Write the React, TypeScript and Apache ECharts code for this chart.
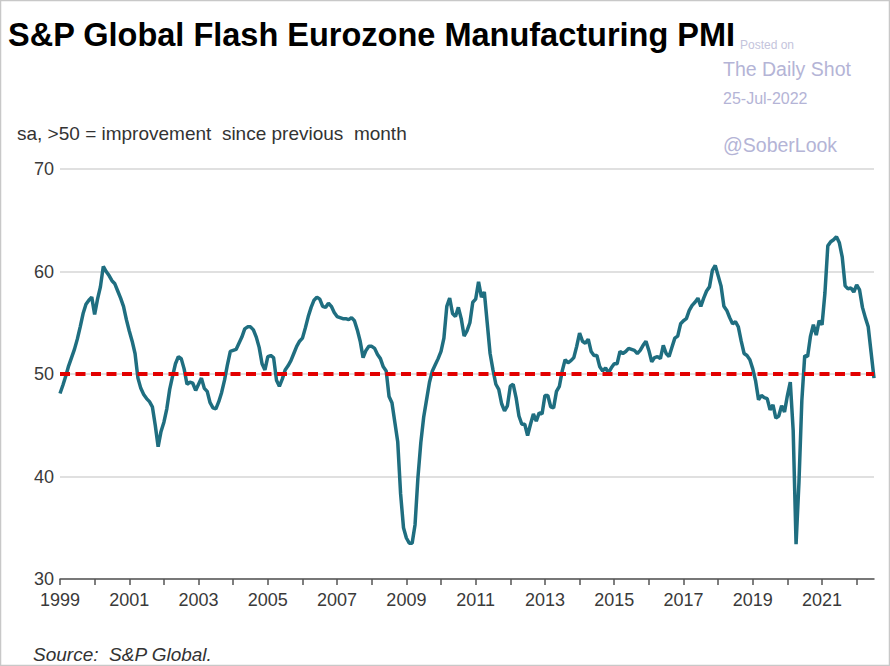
import React, { useEffect, useRef } from "react";
import * as echarts from "echarts";

const startYear = 1999;
const pmi1999to2004 = [
  48.1, 48.9, 49.8, 50.8, 51.6, 52.4, 53.4, 54.6, 55.9, 56.8, 57.2, 57.5,
  55.8, 57.3, 58.5, 60.5, 60.0, 59.6, 59.1, 58.8, 58.1, 57.4, 56.6, 55.3,
  54.2, 53.2, 52.0, 49.6, 48.6, 48.0, 47.6, 47.3, 46.8, 45.0, 42.9, 44.4,
  45.3, 46.6, 48.5, 49.8, 51.0, 51.7, 51.5, 50.5, 49.0, 49.2, 49.1, 48.4,
  49.0, 49.6, 48.6, 48.3, 47.2, 46.7, 46.6, 47.3, 48.2, 49.4, 50.9, 52.2,
  52.3, 52.4, 53.0, 53.6, 54.4, 54.6, 54.6, 54.3, 53.6, 52.6, 51.0, 50.4,
];
const pmi2005to2010 = [
  51.7, 51.8, 51.6, 49.4, 48.8, 49.5, 50.4, 50.8, 51.3, 52.0, 52.7, 53.2,
  53.5, 54.5, 55.6, 56.5, 57.2, 57.5, 57.3, 56.6, 56.5, 56.9, 56.6, 56.0,
  55.6, 55.5, 55.4, 55.4, 55.3, 55.5, 55.2, 54.3, 53.2, 51.6, 52.3, 52.7,
  52.7, 52.5, 51.9, 51.5, 50.7, 50.3, 47.8, 47.2, 45.3, 43.4, 38.3, 35.0,
  34.0, 33.5, 33.5, 35.3, 39.9, 43.3, 45.8, 47.5, 49.2, 50.3, 50.9, 51.5,
  52.2, 53.5, 56.6, 57.4, 55.9, 55.6, 56.5, 55.4, 53.7, 54.2, 55.0, 57.0,
];
const pmi2011to2016 = [
  57.3, 59.0, 57.5, 58.0, 55.0, 52.0, 50.4, 49.0, 48.5, 47.1, 46.4, 46.9,
  48.8, 49.0, 47.7, 45.9, 45.1, 45.1, 44.0, 45.1, 46.1, 45.4, 46.2, 46.1,
  47.9, 47.9, 46.8, 46.7, 48.3, 48.8, 50.3, 51.4, 51.1, 51.3, 51.6, 52.7,
  54.0, 53.2, 53.0, 53.4, 52.2, 51.8, 51.8, 50.7, 50.3, 50.6, 50.1, 50.6,
  51.0, 51.0, 52.2, 52.0, 52.2, 52.5, 52.4, 52.3, 52.0, 52.3, 52.8, 53.2,
  52.3, 51.2, 51.6, 51.7, 51.5, 52.8, 52.0, 51.7, 52.6, 53.5, 53.7, 54.9,
];
const pmi2017to2022 = [
  55.2, 55.4, 56.2, 56.7, 57.0, 57.4, 56.6, 57.4, 58.1, 58.5, 60.1, 60.6,
  59.6, 58.6, 56.6, 56.2, 55.5, 54.9, 55.1, 54.6, 53.2, 52.0, 51.8, 51.4,
  50.5, 49.3, 47.5, 47.9, 47.7, 47.6, 46.5, 47.0, 45.7, 45.9, 46.9, 46.3,
  47.9, 49.2, 44.5, 33.4, 39.4, 47.4, 51.8, 51.7, 53.7, 54.8, 53.8, 55.2,
  54.8, 57.9, 62.5, 62.9, 63.1, 63.4, 62.8, 61.4, 58.6, 58.3, 58.4, 58.0,
  58.7, 58.2, 56.5, 55.5, 54.6, 52.1, 49.6,
];
const thresholdValue = 50;
const yTicks = [30, 40, 50, 60, 70];

const title = "S&P Global Flash Eurozone Manufacturing PMI";
const subtitle = "sa, >50 = improvement  since previous  month";
const source = "Source:  S&P Global.";

export default function App() {
  const ref = useRef<HTMLDivElement>(null);

  useEffect(() => {
    if (!ref.current) return;
    const chart = echarts.init(ref.current, null, { renderer: "svg" });
    const values = [...pmi1999to2004, ...pmi2005to2010, ...pmi2011to2016, ...pmi2017to2022];
    const months: string[] = values.map((_, i) => {
      const y = startYear + Math.floor(i / 12);
      const m = (i % 12) + 1;
      return `${y}-${m < 10 ? "0" + m : m}`;
    });
    const font = "'Liberation Sans', Arial, sans-serif";
    chart.setOption({
      animation: false,
      backgroundColor: "#ffffff",
      grid: { left: 60, right: 16, top: 169, bottom: 87, containLabel: false },
      xAxis: {
        type: "category",
        data: months,
        boundaryGap: false,
        axisLine: { show: true, lineStyle: { color: "#555555", width: 1.5 } },
        axisTick: {
          show: true,
          interval: (index: number) => index % 12 === 0,
          length: 6,
          lineStyle: { color: "#555555", width: 1.5 },
        },
        axisLabel: {
          interval: (index: number) => index % 24 === 0,
          formatter: (v: string) => v.slice(0, 4),
          color: "#3a3a3a",
          fontSize: 18,
          fontFamily: font,
          margin: 12,
        },
        splitLine: { show: false },
      },
      yAxis: {
        type: "value",
        min: yTicks[0],
        max: yTicks[yTicks.length - 1],
        interval: 10,
        axisLine: { show: false },
        axisTick: { show: false },
        axisLabel: { color: "#3a3a3a", fontSize: 18, fontFamily: font, margin: 6 },
        splitLine: { show: true, lineStyle: { color: "#d6d6d6", width: 1.5 } },
      },
      series: [
        {
          type: "line",
          data: values,
          showSymbol: false,
          symbol: "none",
          lineStyle: { color: "#1f6e80", width: 3.5 },
          z: 3,
          markLine: {
            silent: true,
            symbol: "none",
            label: { show: false },
            lineStyle: { color: "#e20000", width: 4, type: [10, 5.5] },
            data: [{ yAxis: thresholdValue }],
            z: 5,
          },
        },
      ],
      graphic: [
        {
          type: "rect",
          shape: { x: 0.5, y: 0.5, width: 889, height: 665 },
          style: { fill: "none", stroke: "#c8c8c8", lineWidth: 1.5 },
          silent: true,
        },
        {
          type: "text",
          x: 740,
          y: 45,
          style: { text: "Posted on", fill: "#c4c4dc", font: `12px ${font}`, textVerticalAlign: "middle" },
          z: 1,
        },
        {
          type: "text",
          x: 8,
          y: 35,
          style: { text: title, fill: "#000000", font: `bold 32.5px ${font}`, textVerticalAlign: "middle" },
          z: 2,
        },
        {
          type: "text",
          x: 723,
          y: 69,
          style: { text: "The Daily Shot", fill: "#b4b4d6", font: `19.5px ${font}`, textVerticalAlign: "middle" },
        },
        {
          type: "text",
          x: 723,
          y: 98,
          style: { text: "25-Jul-2022", fill: "#b4b4d6", font: `16px ${font}`, textVerticalAlign: "middle" },
        },
        {
          type: "text",
          x: 723,
          y: 145,
          style: { text: "@SoberLook", fill: "#b4b4d6", font: `19.5px ${font}`, textVerticalAlign: "middle" },
        },
        {
          type: "text",
          x: 17,
          y: 133,
          style: { text: subtitle, fill: "#333333", font: `19px ${font}`, textVerticalAlign: "middle" },
        },
        {
          type: "text",
          x: 33,
          y: 654,
          style: { text: source, fill: "#333333", font: `italic 19px ${font}`, textVerticalAlign: "middle" },
        },
      ],
    });
    return () => chart.dispose();
  }, []);

  return (
    <div
      ref={ref}
      style={{ position: "fixed", left: 0, top: 0, width: 890, height: 666, background: "#fff" }}
    />
  );
}
